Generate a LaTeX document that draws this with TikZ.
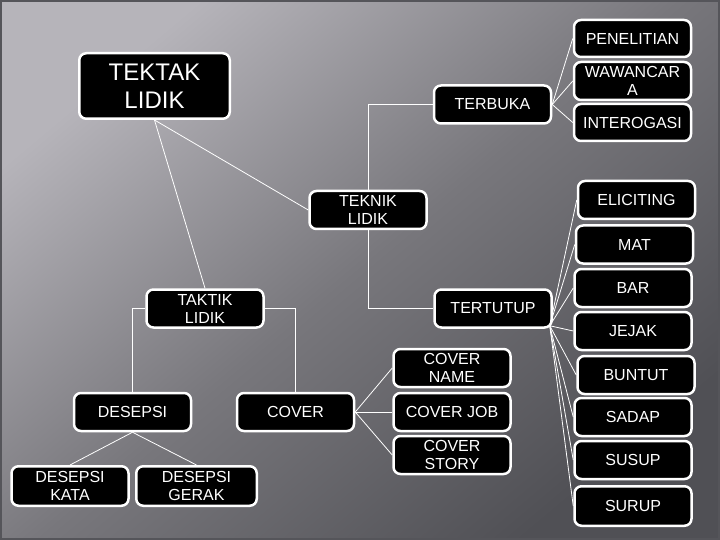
\documentclass[tikz,border=0pt]{standalone}
\usepackage{fontspec}
\setmainfont{Liberation Sans}
\begin{document}
\begin{tikzpicture}[x=1pt,y=-1pt,
  box/.style={draw=white, line width=2.5pt, fill=black, rounded corners=7pt, text=white,
    align=center, inner sep=0pt, minimum width=117pt, minimum height=38pt,
    font=\fontsize{16}{18}\selectfont},
  big/.style={font=\fontsize{24}{28}\selectfont, minimum width=150.5pt, minimum height=65.5pt},
  conn/.style={draw=white, line width=0.8pt}]
\useasboundingbox (0,0) rectangle (720,540);
\shade[top color={rgb,255:red,182;green,180;blue,186}, bottom color={rgb,255:red,80;green,80;blue,85},
  middle color={rgb,255:red,120;green,119;blue,124}, shading angle=40] (0,0) rectangle (720,540);
\draw[line width=2pt, draw={rgb,255:red,85;green,85;blue,90}] (1,1) rectangle (719,539);

\node[box, big] (tektak) at (154.5,86) {TEKTAK\\LIDIK};
\node[box] (teknik) at (368,210) {TEKNIK\\LIDIK};
\node[box] (terbuka) at (492.5,104.5) {TERBUKA};
\node[box, minimum height=37pt] (penelitian) at (632.5,38.5) {PENELITIAN};
\node[box] (wawancara) at (632.5,81) {WAWANCAR\\A};
\node[box, minimum height=37pt] (interogasi) at (632.5,122.5) {INTEROGASI};
\node[box] (eliciting) at (636.5,200) {ELICITING};
\node[box] (mat) at (634.5,244.5) {MAT};
\node[box] (bar) at (633,288) {BAR};
\node[box] (jejak) at (633,331) {JEJAK};
\node[box] (buntut) at (636,375) {BUNTUT};
\node[box] (sadap) at (633,417) {SADAP};
\node[box] (susup) at (633,460) {SUSUP};
\node[box, minimum height=39.5pt] (surup) at (633,506) {SURUP};
\node[box] (tertutup) at (493,308.5) {TERTUTUP};
\node[box] (covername) at (452,368) {COVER\\NAME};
\node[box] (coverjob) at (452,412) {COVER JOB};
\node[box] (coverstory) at (452,455) {COVER\\STORY};
\node[box] (taktik) at (205,308.5) {TAKTIK\\LIDIK};
\node[box] (desepsi) at (132.5,412) {DESEPSI};
\node[box] (cover) at (295.5,412) {COVER};
\node[box, minimum height=39.5pt] (kata) at (70,486) {DESEPSI\\KATA};
\node[box, minimum width=120.5pt, minimum height=39.5pt] (gerak) at (196.5,486) {DESEPSI\\GERAK};

\begin{scope}[on background layer/.style={}]
\end{scope}

\path[conn] (tektak.south) -- (teknik.west);
\path[conn] (tektak.south) -- (taktik.north);
\path[conn] (teknik.north) |- (terbuka.west);
\path[conn] (teknik.south) |- (tertutup.west);
\foreach \n in {penelitian,wawancara,interogasi} \path[conn] (terbuka.east) -- (\n.west);
\foreach \n in {eliciting,mat,bar,jejak,buntut,sadap,susup,surup} \path[conn] (tertutup.south east) ++(-3,-3) -- (\n.west);
\path[conn] (taktik.west) -| (desepsi.north);
\path[conn] (taktik.east) -| (cover.north);
\path[conn] (desepsi.south) -- (kata.north);
\path[conn] (desepsi.south) -- (gerak.north);
\foreach \n in {covername,coverjob,coverstory} \path[conn] (cover.east) -- (\n.west);
\end{tikzpicture}
\end{document}
